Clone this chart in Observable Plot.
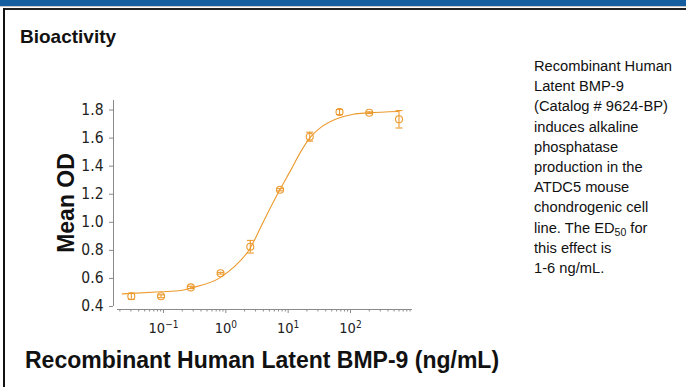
<!DOCTYPE html>
<html><head><meta charset="utf-8">
<script src="https://cdn.jsdelivr.net/npm/d3@7"></script>
<script src="https://cdn.jsdelivr.net/npm/@observablehq/plot@0.6"></script>
<style>
html,body{margin:0;padding:0;background:#fff;}
body{width:686px;height:387px;position:relative;overflow:hidden;font-family:"Liberation Sans",Arial,sans-serif;}
#topbar{position:absolute;left:0;top:0;width:686px;height:6px;background:#155e9f;}
#topgray{position:absolute;left:0;top:6px;width:686px;height:1px;background:#c8c8c8;}
#topline{position:absolute;left:3px;top:8px;width:683px;height:2px;background:#222;}
#leftline{position:absolute;left:3px;top:8px;width:2px;height:379px;background:#111;}
#title{position:absolute;left:20px;top:26px;font-weight:bold;font-size:19px;color:#111;}
#ylab{position:absolute;left:66px;top:203px;transform:translate(-50%,-50%) rotate(-90deg);font-weight:bold;font-size:23px;color:#111;white-space:nowrap;}
#xlab{position:absolute;left:25px;top:347px;font-weight:bold;font-size:23px;color:#111;white-space:nowrap;}
#note{position:absolute;left:534px;top:56px;font-size:14.7px;line-height:20.2px;color:#111;white-space:nowrap;}
#note sub{font-size:10.5px;vertical-align:-3px;line-height:0;}
#chart{position:absolute;left:0;top:0;}
</style></head>
<body>
<div id="topbar"></div><div id="topgray"></div><div id="topline"></div><div id="leftline"></div>
<div id="title">Bioactivity</div>
<div id="chart"></div>
<div id="ylab">Mean OD</div>
<div id="xlab">Recombinant Human Latent BMP-9 (ng/mL)</div>
<div id="note">Recombinant Human<br>Latent BMP-9<br>(Catalog # 9624-BP)<br>induces alkaline<br>phosphatase<br>production in the<br>ATDC5 mouse<br>chondrogenic cell<br>line. The ED<sub>50</sub> for<br>this effect is<br>1-6 ng/mL.</div>
<script>
// measured points (ng/mL, mean OD, error)
const concentrations = [0.0305, 0.0914, 0.274, 0.823, 2.47, 7.41, 22.2, 66.7, 200, 600];
const meanOD = [0.473, 0.473, 0.536, 0.637, 0.826, 1.232, 1.61, 1.786, 1.781, 1.734];
const errorOD = [0.022, 0.01, 0.008, 0.006, 0.045, 0.008, 0.032, 0.018, 0.006, 0.062];
// fitted curve
const curveConc = [0.0218, 0.091, 0.19, 0.265, 0.80, 1.34, 2.42, 4.06, 7.31, 10.96, 15.8, 22.1, 33.1, 61.7, 111, 194, 589];
const curveOD = [0.49, 0.505, 0.514, 0.53, 0.604, 0.68, 0.81, 1.01, 1.23, 1.37, 1.50, 1.60, 1.675, 1.74, 1.77, 1.78, 1.79];
// axis ticks
const yTicks = [0.4, 0.6, 0.8, 1.0, 1.2, 1.4, 1.6, 1.8];
const xMajorTicks = [0.1, 1, 10, 100];
const xTickLabels = ["10^-1", "10^0", "10^1", "10^2"];

const xMinorTicks = [];
for (let k = -2; k <= 2; k++) for (let m = 2; m <= 9; m++) {
  const v = m * Math.pow(10, k);
  if (v >= 0.0183 && v <= 988) xMinorTicks.push(v);
}
const points = concentrations.map((c, i) => ({c, y: meanOD[i], lo: meanOD[i] - errorOD[i], hi: meanOD[i] + errorOD[i]}));
const curve = curveConc.map((c, i) => ({c, y: curveOD[i]}));
const orange = "#ec9a2e";
const axisGray = "#8a8a8a";
const capSymbol = {draw(ctx, size) { const r = Math.sqrt(size / Math.PI); ctx.moveTo(-r, 0); ctx.lineTo(r, 0); }};
const X0 = 0.0183, X1 = 988;

const plot = Plot.plot({
  width: 520, height: 387,
  marginLeft: 117, marginRight: 108, marginTop: 100, marginBottom: 81,
  style: {fontFamily: '"Liberation Sans Narrow","DejaVu Sans Condensed",sans-serif', fontSize: "15.5px", color: "#222", background: "transparent"},
  x: {type: "log", domain: [X0, X1]},
  y: {domain: [0.4, 1.868]},
  marks: [
    Plot.ruleX([X0], {y1: 0.4, y2: 1.868, dx: -4, stroke: axisGray}),
    Plot.ruleY([0.4], {x1: X0, x2: X1, dy: 3, stroke: axisGray}),
    Plot.axisY({ticks: yTicks, tickSize: 4, dx: -4, tickPadding: 6, tickFormat: d3.format(".1f"), label: null, stroke: axisGray, fill: "#222"}),
    Plot.axisX({ticks: xMinorTicks, tickSize: 2.5, dy: 3, tickFormat: () => "", label: null, stroke: axisGray}),
    Plot.axisX({ticks: xMajorTicks, tickSize: 4, dy: 3, tickPadding: 9, fontSize: 14.5, tickFormat: (d) => xTickLabels[xMajorTicks.indexOf(d)], label: null, stroke: axisGray, fill: "#222", className: "xmajor"}),
    Plot.line(curve, {x: "c", y: "y", curve: "monotone-x", stroke: orange, strokeWidth: 1.1}),
    Plot.ruleX(points, {x: "c", y1: "lo", y2: "hi", stroke: orange, strokeWidth: 1.1}),
    Plot.dot(points, {x: "c", y: "lo", symbol: capSymbol, r: 3.5, stroke: orange, strokeWidth: 1.1, fill: "none"}),
    Plot.dot(points, {x: "c", y: "hi", symbol: capSymbol, r: 3.5, stroke: orange, strokeWidth: 1.1, fill: "none"}),
    Plot.dot(points, {x: "c", y: "y", r: 3.5, stroke: orange, strokeWidth: 1.1, fill: "none"})
  ]
});
document.getElementById("chart").appendChild(plot);
// render "10^k" labels with a real superscript
d3.select(plot).selectAll("g.xmajor text, g[aria-label='x-axis tick label'] text").each(function() {
  const t = d3.select(this); const s = t.text();
  if (!s.includes("^")) return;
  const [base, exp] = s.split("^");
  t.text(null);
  t.append("tspan").text(base);
  t.append("tspan").attr("dy", "-0.45em").attr("font-size", "10px").text(exp.replace("-", "\u2212"));
});
</script>
</body></html>
